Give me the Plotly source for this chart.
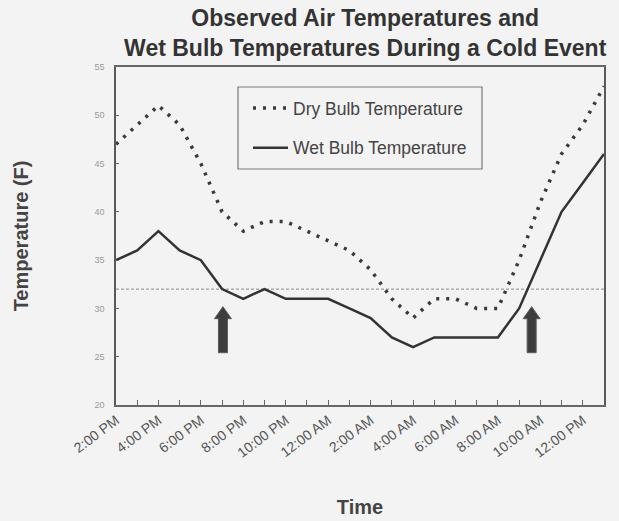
import plotly.graph_objects as go

# ---------------- data ----------------
times = ["2:00 PM", "3:00 PM", "4:00 PM", "5:00 PM", "6:00 PM", "7:00 PM",
         "8:00 PM", "9:00 PM", "10:00 PM", "11:00 PM", "12:00 AM", "1:00 AM",
         "2:00 AM", "3:00 AM", "4:00 AM", "5:00 AM", "6:00 AM", "7:00 AM",
         "8:00 AM", "9:00 AM", "10:00 AM", "11:00 AM", "12:00 PM", "1:00 PM"]
dry_bulb = [47, 49, 51, 49, 45, 40, 38, 39, 39, 38, 37, 36,
            34, 31, 29, 31, 31, 30, 30, 35, 41, 46, 49, 53]
wet_bulb = [35, 36, 38, 36, 35, 32, 31, 32, 31, 31, 31, 30,
            29, 27, 26, 27, 27, 27, 27, 30, 35, 40, 43, 46]
freezing_f = 32
y_ticks = [20, 25, 30, 35, 40, 45, 50, 55]
arrow_positions = [5.04, 19.59]   # hour index where the arrows point

# ---------------- layout geometry ----------------
W, H = 619, 521
ML, MR, MT, MB = 116, 15, 67, 116
plot_w = W - ML - MR
plot_h = H - MT - MB
x_idx = list(range(len(times)))
ticktext = [t if i % 2 == 0 else "" for i, t in enumerate(times)]
px_x = plot_w / (len(times) - 1)
px_y = plot_h / (y_ticks[-1] - y_ticks[0])

FONT = "Liberation Sans, Arial, sans-serif"

fig = go.Figure()
fig.add_trace(go.Scatter(
    x=x_idx, y=dry_bulb, mode="lines", name="Dry Bulb Temperature",
    legendgroup="dry",
    line=dict(color="#3a3a3a", width=3.5, dash="3px,7px"),
))
fig.add_trace(go.Scatter(
    x=x_idx, y=wet_bulb, mode="lines", name="Wet Bulb Temperature",
    legendgroup="wet",
    line=dict(color="#333333", width=2.5),
))

def px2paper_x(p):
    return (p - ML) / plot_w

def px2paper_y(p):
    return (MT + plot_h - p) / plot_h

shapes = []
# freezing line
shapes.append(dict(type="line", xref="paper", yref="y", x0=0, x1=1,
                   y0=freezing_f, y1=freezing_f,
                   line=dict(color="#8a8a8a", width=1, dash="3px,2px"),
                   layer="below"))
# legend frame
shapes.append(dict(type="rect", xref="paper", yref="paper",
                   x0=px2paper_x(238), x1=px2paper_x(482),
                   y0=px2paper_y(169), y1=px2paper_y(87),
                   line=dict(color="#7a7a7a", width=1.2)))
# up arrows
tip_y = 30.18
total_h, head_h, head_hw, shaft_hw = 46, 12, 8.5, 4.5
for cx in arrow_positions:
    yb = tip_y - total_h / px_y
    yh = tip_y - head_h / px_y
    hw = head_hw / px_x
    sw = shaft_hw / px_x
    path = (f"M {cx - sw},{yb} L {cx - sw},{yh} L {cx - hw},{yh} "
            f"L {cx},{tip_y} L {cx + hw},{yh} L {cx + sw},{yh} "
            f"L {cx + sw},{yb} Z")
    shapes.append(dict(type="path", xref="x", yref="y", path=path,
                       fillcolor="#3d3d3d", line=dict(color="#5a5a5a", width=1)))

fig.update_layout(
    width=W, height=H,
    margin=dict(l=ML, r=MR, t=MT, b=MB, autoexpand=False),
    paper_bgcolor="#f3f3f3", plot_bgcolor="#f3f3f3",
    font=dict(family=FONT, color="#444444"),
    title=dict(
        text="Observed Air Temperatures and<br>Wet Bulb Temperatures During a Cold Event",
        x=0.59, xanchor="center", xref="container",
        y=0.95, yanchor="top", yref="container",
        font=dict(family=FONT, size=23, color="#333333", weight="bold"),
    ),
    showlegend=True,
    legend=dict(
        x=px2paper_x(248), xanchor="left",
        y=px2paper_y(90), yanchor="top",
        bgcolor="rgba(0,0,0,0)", borderwidth=0,
        font=dict(family=FONT, size=17.5, color="#444444"),
        tracegroupgap=14, itemwidth=35,
    ),
    shapes=shapes,
    xaxis=dict(
        range=[0, len(times) - 1],
        tickmode="array", tickvals=x_idx, ticktext=ticktext,
        tickangle=-37,
        ticks="inside", ticklen=5, tickcolor="#666666",
        tickfont=dict(family=FONT, size=14, color="#555555"),
        showgrid=False, zeroline=False,
        showline=True, linecolor="#666666", linewidth=1.5, mirror=True,
        title=dict(text="Time", standoff=40,
                   font=dict(family=FONT, size=20, color="#444444", weight="bold")),
    ),
    yaxis=dict(
        range=[y_ticks[0], y_ticks[-1]],
        tickmode="array", tickvals=y_ticks,
        ticks="inside", ticklen=3, tickcolor="#666666",
        ticklabelstandoff=8,
        tickfont=dict(family=FONT, size=9, color="#9a9a9a"),
        showgrid=False, zeroline=False,
        showline=True, linecolor="#5a5a5a", linewidth=1.5, mirror=True,
        title=dict(text="Temperature (F)", standoff=60,
                   font=dict(family=FONT, size=20, color="#444444", weight="bold")),
    ),
)

fig.write_html("out.html", config={"displayModeBar": False},
               post_script="document.body.style.margin='0px';")
